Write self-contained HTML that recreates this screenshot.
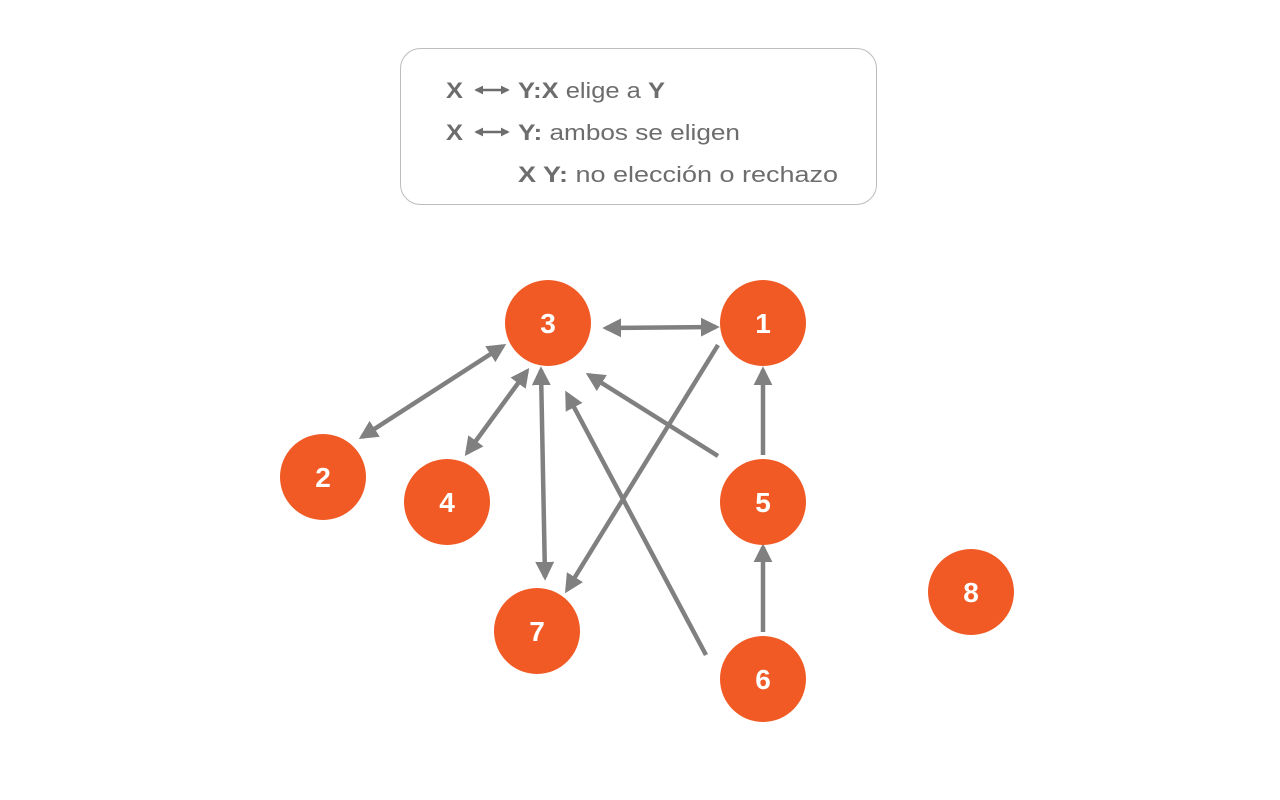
<!DOCTYPE html>
<html><head><meta charset="utf-8"><style>
html,body{margin:0;padding:0;background:#fff;}
svg{display:block;font-family:"Liberation Sans",sans-serif;}
</style></head><body>
<svg width="1280" height="800" viewBox="0 0 1280 800" xmlns="http://www.w3.org/2000/svg">
<defs>
<marker id="a" viewBox="0 0 10 10" refX="8" refY="5" markerWidth="4.2" markerHeight="4.2" orient="auto-start-reverse" markerUnits="strokeWidth">
<path d="M0,0 L10,5 L0,10 Z" fill="#808080"/></marker>
<marker id="s" viewBox="0 0 10 10" refX="8" refY="5" markerWidth="3.5" markerHeight="3.5" orient="auto-start-reverse" markerUnits="strokeWidth">
<path d="M0,0 L10,5 L0,10 Z" fill="#6d6d6d"/></marker>
</defs>
<rect x="400.5" y="48.5" width="476" height="156" rx="20" fill="#fff" stroke="#bdbdbd" stroke-width="1"/>
<g fill="#6d6d6d" font-size="22">
<text x="446" y="98" font-weight="bold" textLength="17" lengthAdjust="spacingAndGlyphs">X</text>
<line x1="476" y1="90" x2="508" y2="90" stroke="#6d6d6d" stroke-width="2.5" marker-start="url(#s)" marker-end="url(#s)"/>
<text x="518" y="98" textLength="147" lengthAdjust="spacingAndGlyphs"><tspan font-weight="bold">Y:X</tspan> elige a <tspan font-weight="bold">Y</tspan></text>
<text x="446" y="140" font-weight="bold" textLength="17" lengthAdjust="spacingAndGlyphs">X</text>
<line x1="476" y1="132" x2="508" y2="132" stroke="#6d6d6d" stroke-width="2.5" marker-start="url(#s)" marker-end="url(#s)"/>
<text x="518" y="140" textLength="222" lengthAdjust="spacingAndGlyphs"><tspan font-weight="bold">Y:</tspan> ambos se eligen</text>
<text x="518" y="182" textLength="320" lengthAdjust="spacingAndGlyphs"><tspan font-weight="bold">X Y:</tspan> no elección o rechazo</text>
</g>
<g stroke="#808080" stroke-width="4.5" fill="none">
<line x1="606" y1="328" x2="716" y2="327" marker-start="url(#a)" marker-end="url(#a)"/>
<line x1="362" y1="437" x2="503" y2="346" marker-start="url(#a)" marker-end="url(#a)"/>
<line x1="467" y1="453" x2="527" y2="371" marker-start="url(#a)" marker-end="url(#a)"/>
<line x1="541" y1="370" x2="545" y2="577" marker-start="url(#a)" marker-end="url(#a)"/>
<line x1="718" y1="345" x2="567" y2="590" marker-end="url(#a)"/>
<line x1="718" y1="456" x2="589" y2="375" marker-end="url(#a)"/>
<line x1="706" y1="655" x2="567" y2="394" marker-end="url(#a)"/>
<line x1="763" y1="455" x2="763" y2="370" marker-end="url(#a)"/>
<line x1="763" y1="632" x2="763" y2="547" marker-end="url(#a)"/>
</g>
<g fill="#f15a24">
<circle cx="548" cy="323" r="43"/>
<circle cx="763" cy="323" r="43"/>
<circle cx="323" cy="477" r="43"/>
<circle cx="447" cy="502" r="43"/>
<circle cx="763" cy="502" r="43"/>
<circle cx="537" cy="631" r="43"/>
<circle cx="971" cy="592" r="43"/>
<circle cx="763" cy="679" r="43"/>
</g>
<g fill="#fff" font-size="28" font-weight="bold" text-anchor="middle">
<text x="548" y="333">3</text>
<text x="763" y="333">1</text>
<text x="323" y="487">2</text>
<text x="447" y="512">4</text>
<text x="763" y="512">5</text>
<text x="537" y="641">7</text>
<text x="971" y="602">8</text>
<text x="763" y="689">6</text>
</g>
</svg>
</body></html>
